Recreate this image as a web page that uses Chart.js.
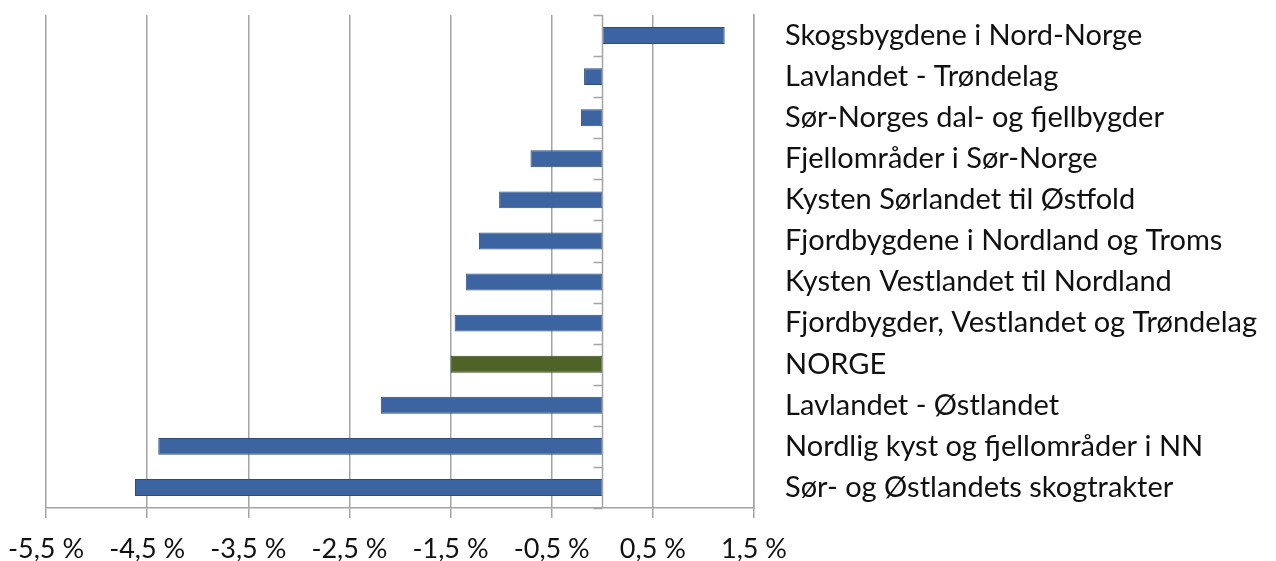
<!DOCTYPE html>
<html>
<head>
<meta charset="utf-8">
<script src="https://cdn.jsdelivr.net/npm/chart.js@4.4.0/dist/chart.umd.min.js"></script>
<style>
  html, body { margin: 0; padding: 0; background: #fff; }
  #wrap { width: 1276px; height: 561px; }
</style>
</head>
<body>
<div id="wrap"><canvas id="chart" width="1276" height="561"></canvas></div>
<script>
// Kategorier (ovenfra og ned) og endring i prosent
const regions = [
  'Skogsbygdene i Nord-Norge',
  'Lavlandet - Trøndelag',
  'Sør-Norges dal- og fjellbygder',
  'Fjellområder i Sør-Norge',
  'Kysten Sørlandet til Østfold',
  'Fjordbygdene i Nordland og Troms',
  'Kysten Vestlandet til Nordland',
  'Fjordbygder, Vestlandet og Trøndelag',
  'NORGE',
  'Lavlandet - Østlandet',
  'Nordlig kyst og fjellområder i NN',
  'Sør- og Østlandets skogtrakter'
];
const changes = [1.21, -0.18, -0.21, -0.71, -1.02, -1.22, -1.35, -1.46, -1.50, -2.19, -4.39, -4.62];
const xTicks = [-5.5, -4.5, -3.5, -2.5, -1.5, -0.5, 0.5, 1.5];

const blue = '#3b64a0';
const green = '#4f6228';
const gridColor = '#a4a4a4';
const font = 'Lato, "Open Sans", sans-serif';

// aksen ved null med små tick-streker til venstre
const zeroAxis = {
  id: 'zeroAxis',
  afterDatasetsDraw(chart) {
    const { ctx, chartArea, scales } = chart;
    const x0 = Math.round(scales.x.getPixelForValue(0)) + 0.5;
    const step = (chartArea.bottom - chartArea.top) / regions.length;
    ctx.save();
    ctx.strokeStyle = gridColor;
    ctx.lineWidth = 1.5;
    ctx.beginPath();
    ctx.moveTo(x0, chartArea.top);
    ctx.lineTo(x0, chartArea.bottom);
    for (let i = 0; i <= regions.length; i++) {
      const y = Math.round(chartArea.top + i * step) + 0.5;
      ctx.moveTo(x0 - 9, y);
      ctx.lineTo(x0, y);
    }
    ctx.stroke();
    ctx.restore();
  }
};

const ctx = document.getElementById('chart').getContext('2d');
new Chart(ctx, {
  type: 'bar',
  data: {
    labels: regions,
    datasets: [{
      data: changes,
      backgroundColor: regions.map(r => r === 'NORGE' ? green : blue),
      borderColor: regions.map(r => r === 'NORGE' ? '#3b4a1e' : '#2c4c7c'),
      borderWidth: 1,
      borderSkipped: false,
      categoryPercentage: 1,
      barPercentage: 0.41
    }]
  },
  options: {
    indexAxis: 'y',
    responsive: false,
    animation: false,
    devicePixelRatio: 1,
    layout: { padding: { top: 15, left: 46, right: 0, bottom: 0 } },
    plugins: { legend: { display: false }, tooltip: { enabled: false } },
    scales: {
      x: {
        min: -5.5,
        max: 1.5,
        afterBuildTicks: axis => { axis.ticks = xTicks.map(v => ({ value: v })); },
        afterFit: axis => {
          axis.height = 53;
          axis.paddingLeft = 0;
          axis.paddingRight = 0;
        },
        grid: { color: gridColor, lineWidth: 1.5, tickLength: 10 },
        border: { color: gridColor, width: 1.5 },
        ticks: {
          color: '#111',
          font: { family: font, size: 27 },
          padding: 15,
          maxRotation: 0,
          callback: v => v.toFixed(1).replace('.', ',') + ' %'
        }
      },
      y: {
        position: 'right',
        afterFit: axis => {
          axis.width = 522;
          axis.paddingTop = 0;
          axis.paddingBottom = 0;
        },
        grid: { display: false, drawTicks: false },
        border: { color: gridColor, width: 1.5 },
        ticks: {
          color: '#111',
          font: { family: font, size: 29 },
          padding: 31,
          autoSkip: false
        }
      }
    }
  },
  plugins: [zeroAxis]
});
</script>
</body>
</html>
